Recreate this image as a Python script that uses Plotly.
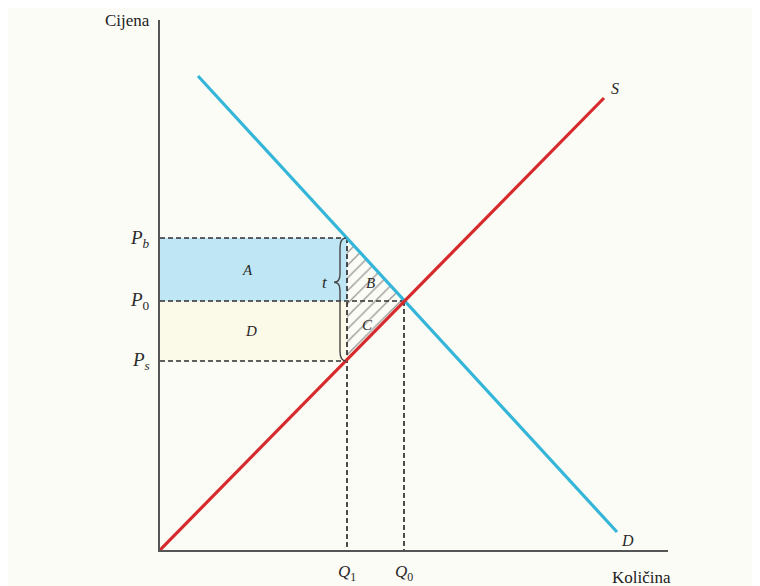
import plotly.graph_objects as go

# ---- data (price/quantity units) ----
supply_q = [0, 444]
supply_p = [0, 452]
demand_q = [38, 457]
demand_p = [474, 18]
Q1, Q0 = 187, 244
Ps, P0, Pb = 189, 249, 312
x_max, y_max = 508, 530

BLUE = "#35b6d9"
RED = "#d62a2c"
BG = "#fcfcf7"
DASH = "#2e2e2e"
SERIF = "Liberation Serif, DejaVu Serif, serif"

fig = go.Figure()

# area A (blue) and D (cream)
fig.add_trace(go.Scatter(x=[0, Q1, Q1, 0, 0], y=[P0, P0, Pb, Pb, P0], fill="toself",
                         fillcolor="#bfe6f4", line=dict(width=0), mode="lines",
                         hoverinfo="skip", showlegend=False))
fig.add_trace(go.Scatter(x=[0, Q1, Q1, 0, 0], y=[Ps, Ps, P0, P0, Ps], fill="toself",
                         fillcolor="#fbf9e8", line=dict(width=0), mode="lines",
                         hoverinfo="skip", showlegend=False))
# hatched triangles B and C
pat = dict(shape="/", fgcolor="#333333", bgcolor=BG, size=9, solidity=0.15)
fig.add_trace(go.Scatter(x=[Q1, Q0, Q1, Q1], y=[Pb, P0, P0, Pb], fill="toself",
                         fillpattern=pat, line=dict(width=0), mode="lines",
                         hoverinfo="skip", showlegend=False))
fig.add_trace(go.Scatter(x=[Q1, Q0, Q1, Q1], y=[P0, P0, Ps, P0], fill="toself",
                         fillpattern=pat, line=dict(width=0), mode="lines",
                         hoverinfo="skip", showlegend=False))

# dashed guide lines
dash_style = dict(color=DASH, width=1.7, dash="5px,3px")
for xs, ys in [([0, Q1], [Pb, Pb]), ([0, Q0], [P0, P0]), ([0, Q1], [Ps, Ps]),
               ([Q1, Q1], [Pb, 0]), ([Q0, Q0], [P0, 0])]:
    fig.add_trace(go.Scatter(x=xs, y=ys, mode="lines", line=dash_style,
                             hoverinfo="skip", showlegend=False))

# supply and demand
fig.add_trace(go.Scatter(x=demand_q, y=demand_p, mode="lines",
                         line=dict(color=BLUE, width=3.2), showlegend=False))
fig.add_trace(go.Scatter(x=supply_q, y=supply_p, mode="lines",
                         line=dict(color=RED, width=3.2), showlegend=False))

# brace "t"
bx_end = Q1 - 1
bx_body = Q1 - 7
bx_tip = Q1 - 13
tip_y = Pb - 0.36 * (Pb - Ps)
brace = (f"M {bx_end},{Pb} Q {bx_body},{Pb} {bx_body},{Pb-10} "
         f"L {bx_body},{tip_y+8} Q {bx_body},{tip_y} {bx_tip},{tip_y} "
         f"Q {bx_body},{tip_y} {bx_body},{tip_y-8} "
         f"L {bx_body},{Ps+10} Q {bx_body},{Ps} {bx_end},{Ps}")

ann = []
def label(text, x, y, size=15, xanchor="center", xshift=0, yshift=0, color="#2a2a2a", ref="data"):
    xr, yr = ("x", "y") if ref == "data" else ("paper", "paper")
    ann.append(dict(text=text, x=x, y=y, xref=xr, yref=yr, showarrow=False,
                    xanchor=xanchor, yanchor="middle", xshift=xshift, yshift=yshift,
                    font=dict(family=SERIF, size=size, color=color)))

label("<i>P<sub>b</sub></i>", 0, Pb, 19, "right", -8, -1)
label("<i>P</i><sub>0</sub>", 0, P0, 19, "right", -8, 0)
label("<i>P<sub>s</sub></i>", 0, Ps, 19, "right", -8, 0)
label("<i>Q</i><sub>1</sub>", Q1, 0, 17, yshift=-23)
label("<i>Q</i><sub>0</sub>", Q0, 0, 17, yshift=-23)
label("<i>A</i>", Q1 / 2 - 6, (Pb + P0) / 2, 15)
label("<i>D</i>", Q1 / 2 - 3, (P0 + Ps) / 2, 15)
label("<i>B</i>", Q1 + 23, P0 + 18, 15)
label("<i>C</i>", Q1 + 20, P0 - 24, 15)
label("<i>t</i>", bx_tip - 9, tip_y, 17)
label("<i>S</i>", supply_q[1] + 11, supply_p[1] + 10, 16)
label("<i>D</i>", demand_q[1] + 10, demand_p[1] - 8, 16)
label("Cijena", -33 / x_max, 1.0, 17, color="#222", ref="paper")
label("Količina", 481, 0, 17, yshift=-27, color="#222")

fig.update_layout(
    width=752, height=578,
    margin=dict(l=152, r=92, t=12, b=36),
    paper_bgcolor=BG, plot_bgcolor=BG,
    shapes=[dict(type="path", path=brace, xref="x", yref="y",
                 line=dict(color="#444", width=1.4))],
    annotations=ann,
    xaxis=dict(range=[0, x_max], showgrid=False, zeroline=False, showticklabels=False,
               ticks="", showline=True, linecolor="#555", linewidth=2),
    yaxis=dict(range=[0, y_max], showgrid=False, zeroline=False, showticklabels=False,
               ticks="", showline=True, linecolor="#555", linewidth=2),
)

fig.write_html("out.html")
